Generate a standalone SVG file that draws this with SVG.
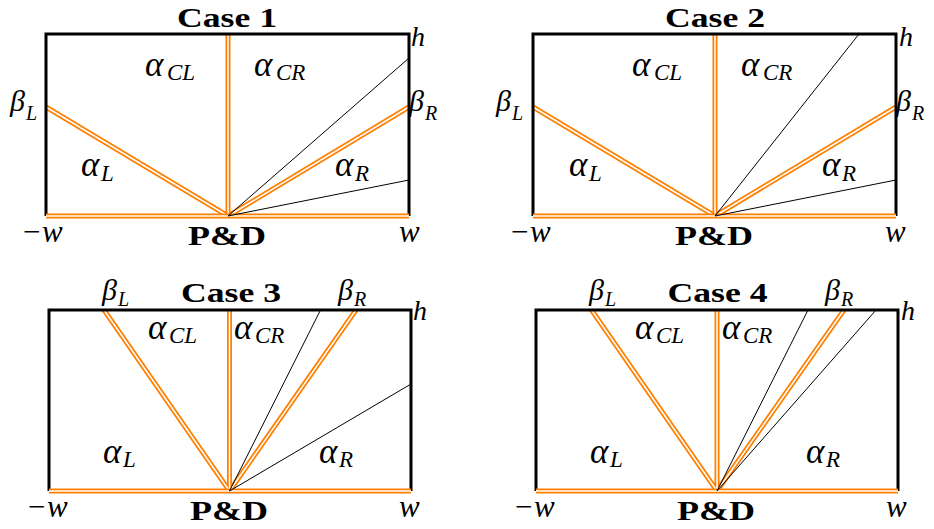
<svg xmlns="http://www.w3.org/2000/svg" xmlns:xlink="http://www.w3.org/1999/xlink" width="934" height="529" viewBox="0 0 934 529">
<style>
.frame{fill:none;stroke:#000;stroke-width:3;stroke-linejoin:miter}
.or{fill:none;stroke:#FF7F00;stroke-width:5}
.ow{fill:none;stroke:#fff;stroke-width:1.5}
.thin{fill:none;stroke:#000;stroke-width:1}
.title{font-family:'Liberation Serif','Times New Roman',serif;font-weight:bold;font-size:28px;text-anchor:middle}
.pd{font-family:'Liberation Serif','Times New Roman',serif;font-weight:bold;font-size:27px;text-anchor:middle}
.m{font-family:'Liberation Serif','Times New Roman',serif;font-style:italic;font-size:35px}
.s{font-size:23px}
.b{font-family:'Liberation Serif','Times New Roman',serif;font-style:italic;font-size:30px}
.bs{font-size:20px}
.h{font-family:'Liberation Serif','Times New Roman',serif;font-style:italic;font-size:28px}
.w{font-family:'Liberation Serif','Times New Roman',serif;font-style:italic;font-size:31px}
</style>
<defs>
<path id="c1a" d="M46,107 L228,216 M409,107 L228,216 M228,216 V34"/>
<path id="c1b" d="M46,216 H409"/>
<path id="c2a" d="M533,107 L715,216 M896,107 L715,216 M715,216 V34"/>
<path id="c2b" d="M533,216 H896"/>
<path id="c3a" d="M104,310 L229.5,491 M356,310 L229.5,491 M229.5,491 V310"/>
<path id="c3b" d="M49,491 H411"/>
<path id="c4a" d="M591.5,310 L717,491 M844,310 L717,491 M717,491 V310"/>
<path id="c4b" d="M536,491 H898"/>
</defs>

<g id="case1">
<use xlink:href="#c1a" class="or"/><use xlink:href="#c1a" class="ow"/>
<path class="frame" d="M46,216 V34 H409 V216"/>
<use xlink:href="#c1b" class="or"/><use xlink:href="#c1b" class="ow"/>
<path class="thin" d="M228,216 L409,58 M228,216 L409,180"/>
<text class="title" x="227" y="27" textLength="100" lengthAdjust="spacingAndGlyphs">Case 1</text>
<text class="m" x="145" y="76">α<tspan class="s" x="167" y="80">CL</tspan></text>
<text class="m" x="254" y="76">α<tspan class="s" x="276" y="80">CR</tspan></text>
<text class="b" x="10" y="111">β<tspan class="bs" x="26" y="120">L</tspan></text>
<text class="b" x="409" y="111">β<tspan class="bs" x="425" y="120">R</tspan></text>
<text class="m" x="81" y="176">α<tspan class="s" x="101" y="181">L</tspan></text>
<text class="m" x="335" y="176">α<tspan class="s" x="355" y="181">R</tspan></text>
<text class="h" x="411" y="46">h</text>
<text class="w" x="21" y="242">−w</text>
<text class="w" x="399" y="242">w</text>
<text class="pd" x="227" y="245" textLength="78" lengthAdjust="spacingAndGlyphs">P&amp;D</text>
</g>

<g id="case2">
<use xlink:href="#c2a" class="or"/><use xlink:href="#c2a" class="ow"/>
<path class="frame" d="M533,216 V34 H896 V216"/>
<use xlink:href="#c2b" class="or"/><use xlink:href="#c2b" class="ow"/>
<path class="thin" d="M715,216 L859,34 M715,216 L896,180"/>
<text class="title" x="715" y="27" textLength="100" lengthAdjust="spacingAndGlyphs">Case 2</text>
<text class="m" x="632" y="76">α<tspan class="s" x="654" y="80">CL</tspan></text>
<text class="m" x="741" y="76">α<tspan class="s" x="763" y="80">CR</tspan></text>
<text class="b" x="496" y="111">β<tspan class="bs" x="512" y="120">L</tspan></text>
<text class="b" x="896" y="111">β<tspan class="bs" x="912" y="120">R</tspan></text>
<text class="m" x="569" y="176">α<tspan class="s" x="589" y="181">L</tspan></text>
<text class="m" x="822" y="176">α<tspan class="s" x="842" y="181">R</tspan></text>
<text class="h" x="899" y="46">h</text>
<text class="w" x="509" y="242">−w</text>
<text class="w" x="885" y="242">w</text>
<text class="pd" x="714" y="245" textLength="78" lengthAdjust="spacingAndGlyphs">P&amp;D</text>
</g>

<g id="case3">
<use xlink:href="#c3a" class="or"/><use xlink:href="#c3a" class="ow"/>
<path class="frame" d="M49,491 V310 H411 V491"/>
<use xlink:href="#c3b" class="or"/><use xlink:href="#c3b" class="ow"/>
<path class="thin" d="M229.5,491 L320.5,310 M229.5,491 L411,384"/>
<text class="title" x="231" y="302" textLength="100" lengthAdjust="spacingAndGlyphs">Case 3</text>
<text class="b" x="102" y="300">β<tspan class="bs" x="118" y="306">L</tspan></text>
<text class="b" x="338" y="300">β<tspan class="bs" x="354" y="306">R</tspan></text>
<text class="m" x="148" y="339">α<tspan class="s" x="169" y="343">CL</tspan></text>
<text class="m" x="234" y="339">α<tspan class="s" x="255" y="343">CR</tspan></text>
<text class="m" x="103" y="463">α<tspan class="s" x="123" y="467">L</tspan></text>
<text class="m" x="319" y="463">α<tspan class="s" x="339" y="467">R</tspan></text>
<text class="h" x="413" y="320">h</text>
<text class="w" x="26" y="517">−w</text>
<text class="w" x="399" y="517">w</text>
<text class="pd" x="229" y="520" textLength="78" lengthAdjust="spacingAndGlyphs">P&amp;D</text>
</g>

<g id="case4">
<use xlink:href="#c4a" class="or"/><use xlink:href="#c4a" class="ow"/>
<path class="frame" d="M536,491 V310 H898 V491"/>
<use xlink:href="#c4b" class="or"/><use xlink:href="#c4b" class="ow"/>
<path class="thin" d="M717,491 L808,310 M717,491 L876,310"/>
<text class="title" x="717.5" y="302" textLength="100" lengthAdjust="spacingAndGlyphs">Case 4</text>
<text class="b" x="589" y="300">β<tspan class="bs" x="605" y="306">L</tspan></text>
<text class="b" x="825" y="300">β<tspan class="bs" x="841" y="306">R</tspan></text>
<text class="m" x="635" y="339">α<tspan class="s" x="656" y="343">CL</tspan></text>
<text class="m" x="722" y="339">α<tspan class="s" x="743" y="343">CR</tspan></text>
<text class="m" x="590" y="463">α<tspan class="s" x="610" y="467">L</tspan></text>
<text class="m" x="806" y="463">α<tspan class="s" x="826" y="467">R</tspan></text>
<text class="h" x="901" y="320">h</text>
<text class="w" x="513" y="517">−w</text>
<text class="w" x="886" y="517">w</text>
<text class="pd" x="716" y="520" textLength="78" lengthAdjust="spacingAndGlyphs">P&amp;D</text>
</g>
</svg>
